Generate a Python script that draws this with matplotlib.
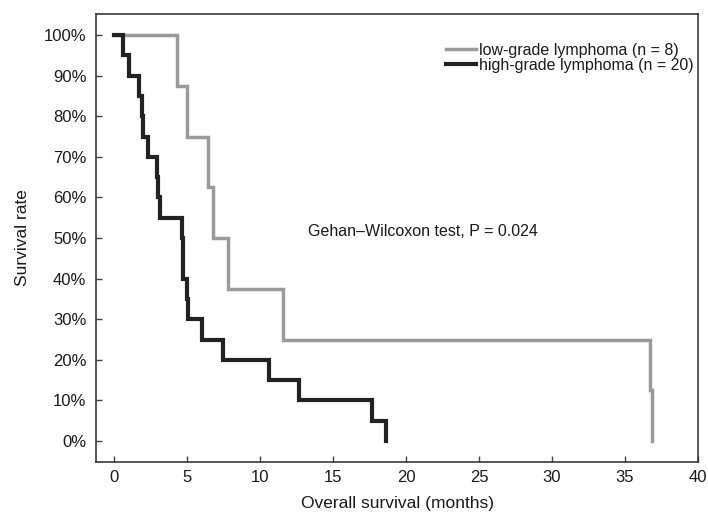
import matplotlib
matplotlib.use("Agg")
import matplotlib.pyplot as plt
from matplotlib.ticker import FuncFormatter

plt.rcParams['font.family'] = ['Liberation Sans', 'DejaVu Sans']

# Kaplan-Meier event times (months) and survival (%) after each event
low_times = [4.3, 5.0, 6.45, 6.8, 7.8, 11.6, 36.7, 36.85]
low_surv = [87.5, 75.0, 62.5, 50.0, 37.5, 25.0, 12.5, 0.0]

high_times = [0.65, 1.0, 1.7, 1.95, 2.0, 2.35, 2.95, 3.05, 3.15, 4.68,
              4.72, 4.76, 4.98, 5.1, 6.0, 7.5, 10.6, 12.7, 17.7, 18.6]
high_surv = [95, 90, 85, 80, 75, 70, 65, 60, 55, 50,
             45, 40, 35, 30, 25, 20, 15, 10, 5, 0]

labels = ["low-grade lymphoma (n = 8)", "high-grade lymphoma (n = 20)"]
colors = ["#9a9a9a", "#222222"]

x_ticks = list(range(0, 45, 5))
y_ticks = list(range(0, 110, 10))

fig = plt.figure(figsize=(7.08, 5.18), dpi=100)
ax = fig.add_axes([0.1356, 0.1087, 0.8503, 0.8643])

ax.step([0] + low_times, [100] + low_surv, where='post',
        color=colors[0], lw=2.5, label=labels[0], solid_joinstyle='miter')
ax.step([0] + high_times, [100] + high_surv, where='post',
        color=colors[1], lw=3.0, label=labels[1], solid_joinstyle='miter')

ax.set_xlim(-1.23, 40)
ax.set_ylim(-5.1, 105.2)
ax.set_xticks(x_ticks)
ax.set_yticks(y_ticks)
ax.yaxis.set_major_formatter(FuncFormatter(lambda v, p: f"{int(v)}%"))

for s in ax.spines.values():
    s.set_color("#3a3a3a")
    s.set_linewidth(1.2)
ax.tick_params(direction='in', length=4, width=1, color="#444444",
               labelsize=12, labelcolor="#1a1a1a")
ax.tick_params(axis='y', pad=7)
ax.tick_params(axis='x', pad=6)

ax.set_xlabel("Overall survival (months)", fontsize=12.5, color="#1a1a1a", labelpad=8)
ax.set_ylabel("Survival rate", fontsize=12.5, color="#1a1a1a", labelpad=10)

ax.text(13.3, 51.5, "Gehan\u2013Wilcoxon test, P = 0.024", fontsize=11.5,
        color="#1a1a1a", va='center', ha='left')

leg = ax.legend(loc='upper right', frameon=False, fontsize=11.5,
                handlelength=1.9, handletextpad=0.2, labelspacing=0.0,
                borderaxespad=0.3, bbox_to_anchor=(1.0116, 0.960))
for t in leg.get_texts():
    t.set_color("#1a1a1a")

fig.savefig("out.png", dpi=100)
